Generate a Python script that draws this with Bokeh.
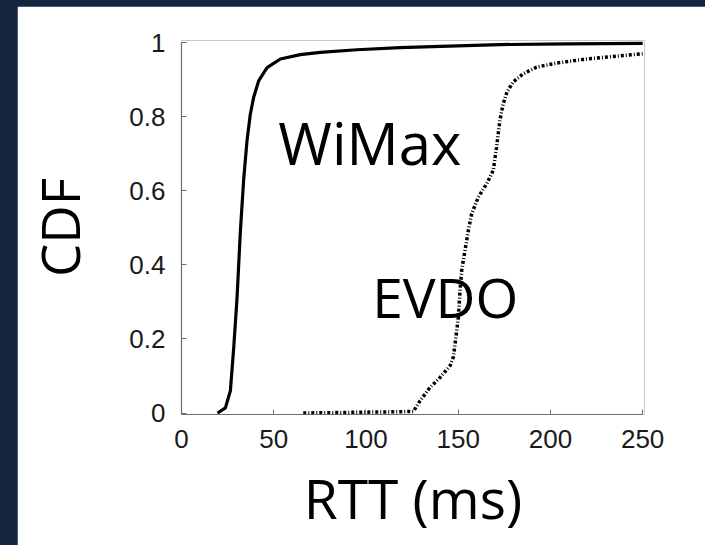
from bokeh.plotting import figure
from bokeh.models import Range1d, FixedTicker, Label
from bokeh.embed import file_html
from bokeh.resources import INLINE

# ---- data ----
wimax_x = [19.5, 20.2, 23.8, 26.5, 28.3, 30.1, 31.9, 33.7, 35.5, 37.3, 39.1, 41.8, 46.4, 53.6, 64.4, 75.2, 95, 118.5, 145, 172.6, 210, 250]
wimax_y = [0, 0.002, 0.014, 0.06, 0.176, 0.31, 0.49, 0.63, 0.735, 0.807, 0.852, 0.897, 0.933, 0.956, 0.968, 0.974, 0.981, 0.987, 0.991, 0.995, 0.997, 0.998]

evdo_x = [66, 125.7, 129.3, 134.7, 140.2, 145.6, 147.3, 148.3, 150.1, 151, 151.9, 153.7, 155.5, 157.3, 160.9, 165.4, 169, 170.8, 172.6, 174.4, 176.5, 180, 185.2, 192.5, 203.3, 217.7, 233.9, 250]
evdo_y = [0, 0.004, 0.033, 0.069, 0.096, 0.128, 0.15, 0.186, 0.259, 0.331, 0.385, 0.439, 0.493, 0.538, 0.583, 0.619, 0.655, 0.718, 0.79, 0.835, 0.868, 0.895, 0.916, 0.934, 0.945, 0.955, 0.963, 0.97]

x_ticks = [0, 50, 100, 150, 200, 250]
x_tick_labels = ["0", "50", "100", "150", "200", "250"]
y_ticks = [0, 0.2, 0.4, 0.6, 0.8, 1.0]
y_tick_labels = ["0", "0.2", "0.4", "0.6", "0.8", "1"]

series_names = ["WiMax", "EVDO"]
x_title = "RTT (ms)"
y_title = "CDF"

NAVY = "#13253f"

p = figure(width=688, height=539, output_backend="svg", toolbar_location=None,
           x_range=Range1d(0, 251), y_range=Range1d(-0.004, 1.006),
           min_border_left=164, min_border_right=61, min_border_top=34, min_border_bottom=131,
           background_fill_color="white", border_fill_color="white")
p.margin = (6, 0, 0, 17)
p.outline_line_color = None
p.grid.visible = False

p.line(wimax_x, wimax_y, line_color="black", line_width=3.2)
p.line(evdo_x, evdo_y, line_color="black", line_width=3.5, line_dash="3 2 1 2")

for ax, ticks, labels in ((p.xaxis[0], x_ticks, x_tick_labels), (p.yaxis[0], y_ticks, y_tick_labels)):
    ax.ticker = FixedTicker(ticks=ticks)
    ax.major_label_overrides = {t: l for t, l in zip(ticks, labels)}
    ax.bounds = (ticks[0], ticks[-1])
    ax.axis_line_color = "#6e6e6e"
    ax.axis_line_width = 1.2
    ax.major_tick_line_color = "#6e6e6e"
    ax.major_tick_in = 5
    ax.major_tick_out = 0
    ax.minor_tick_line_color = None
    ax.major_label_text_font = "Liberation Sans"
    ax.major_label_text_font_size = "26px"
    ax.major_label_text_color = "#1a1a1a"
    ax.axis_label_text_font = "Open Sans"
    ax.axis_label_text_font_style = "normal"
    ax.axis_label_text_color = "black"

p.xaxis[0].axis_label = x_title
p.xaxis[0].axis_label_text_font_size = "55px"
p.xaxis[0].major_label_standoff = 15
p.xaxis[0].axis_label_standoff = 9

p.yaxis[0].axis_label = y_title
p.yaxis[0].axis_label_text_font_size = "53px"
p.yaxis[0].major_label_standoff = 16
p.yaxis[0].axis_label_standoff = 30

p.add_layout(Label(x=52.5, y=0.73, text=series_names[0], text_font="Open Sans",
                   text_font_size="58px", text_baseline="alphabetic", text_color="black"))
p.add_layout(Label(x=103.4, y=0.316, text=series_names[1], text_font="Open Sans",
                   text_font_size="55px", text_baseline="alphabetic", text_color="black"))

html = file_html(p, INLINE)
html = html.replace("</head>", "<style>html, body {background-color: %s; overflow: hidden;}</style></head>" % NAVY, 1)
open("out.html", "w").write(html)
